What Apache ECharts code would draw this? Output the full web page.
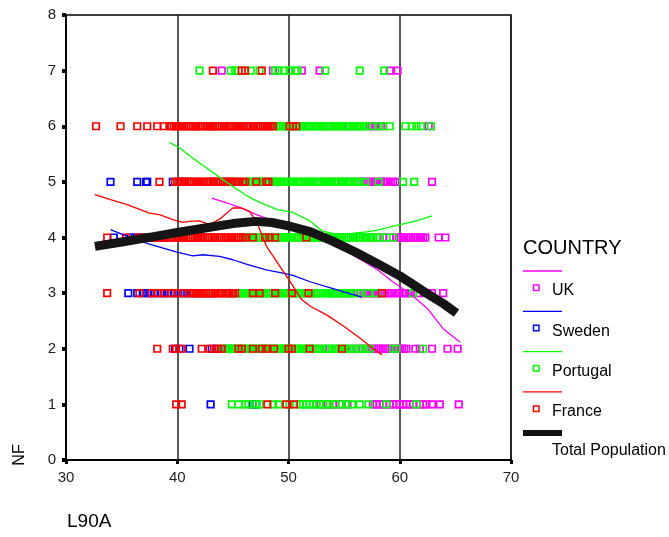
<!DOCTYPE html>
<html>
<head>
<meta charset="utf-8">
<script src="https://cdn.jsdelivr.net/npm/echarts@6.0.0/dist/echarts.min.js"></script>
<style>
  html, body { margin: 0; padding: 0; background: #fff; }
  #main { width: 669px; height: 537px; }
</style>
</head>
<body>
<div id="main"></div>
<script>
// L90A values of the cases at each NF level, per country
const ukNF7 = [44.0, 48.6, 51.2, 52.8, 59.1, 59.8];
const ptNF7 = [42.0, 44.8, 45.2, 45.5, 46.6, 47.4, 48.8, 49.1, 49.6, 50.1, 50.6, 50.8, 53.3, 56.4, 58.6];
const frNF7 = [43.2, 45.8, 46.1, 47.6];

const ukNF6 = [55.4, 57.3, 57.5, 57.8, 58.3, 62.6];
const ptNF6 = [40.0, 41.6, 43.2, 44.5, 45.6, 46.9, 47.8,
  48.7, 48.9, 49.1, 49.3, 49.5, 49.7, 49.8, 50.0, 50.2, 50.4, 50.6, 50.8, 51.0, 51.2, 51.3, 51.5, 51.7, 51.9,
  52.1, 52.3, 52.5, 52.7, 52.9, 53.0, 53.2, 53.4, 53.6, 53.8, 54.0, 54.2, 54.4, 54.5, 54.7, 54.9, 55.1, 55.3,
  55.5, 55.7, 55.9, 56.0, 56.2, 56.4, 56.6, 56.8, 57.0, 57.6, 58.1, 58.5, 59.1, 60.5, 61.1, 61.5, 61.9, 62.8];
const frNF6 = [32.7, 34.9, 36.4, 37.3, 38.2, 38.8,
  39.3, 39.5, 39.7, 39.9, 40.1, 40.3, 40.4, 40.6, 40.8, 41.0, 41.2, 41.4, 41.6, 41.7, 41.9, 42.1, 42.3, 42.5,
  42.7, 42.9, 43.0, 43.2, 43.4, 43.6, 43.8, 44.0, 44.2, 44.3, 44.5, 44.7, 44.9, 45.1, 45.3, 45.5, 45.6, 45.8,
  46.0, 46.2, 46.4, 46.6, 46.8, 46.9, 47.1, 47.3, 47.5, 47.7, 47.9, 48.1, 48.2, 48.4, 48.6, 50.1, 50.4, 50.7];

const ukNF5 = [53.9, 54.8, 55.5, 56.4, 56.6, 56.8, 57.0, 57.2, 57.4, 57.6, 57.8, 58.0, 58.3, 58.5, 58.7, 58.9,
  59.2, 59.4, 59.6, 62.9];
const swNF5 = [34.0, 36.4, 37.2, 37.3, 39.6, 40.4, 40.7, 43.3];
const ptNF5 = [40.2, 41.5, 43.0, 44.2, 44.8, 45.7,
  46.2, 46.4, 46.6, 46.8, 47.0, 47.2, 47.4, 47.5, 47.7, 47.9, 48.1, 48.3, 48.5, 48.7, 48.9, 49.0, 49.2, 49.4,
  49.6, 49.8, 50.0, 50.2, 50.4, 50.5, 50.7, 50.9, 51.1, 51.3, 51.5, 51.7, 51.9, 52.0, 52.2, 52.4, 52.6, 52.8,
  53.0, 53.2, 53.4, 53.5, 53.7, 53.9, 54.1, 54.3, 54.5, 54.7, 54.9, 55.0, 55.2, 55.4, 55.6, 55.8, 56.0, 56.2,
  56.4, 56.9, 58.1, 60.3, 61.3];
const frNF5 = [38.4, 39.8, 40.0, 40.2, 40.4, 40.6, 40.7, 40.9, 41.1, 41.3, 41.5, 41.7, 41.9, 42.0, 42.2, 42.4,
  42.6, 42.8, 43.0, 43.2, 43.3, 43.5, 43.7, 43.9, 44.1, 44.3, 44.5, 44.6, 44.8, 45.0, 45.2, 45.4, 45.6, 45.9,
  46.1, 47.1, 48.0, 48.2];

const ukNF4 = [58.0, 58.5, 59.1, 59.7, 59.9, 60.1, 60.3, 60.4, 60.6, 60.8, 61.0, 61.2, 61.4, 61.6, 61.8, 61.9,
  62.1, 62.3, 63.5, 64.1];
const swNF4 = [34.3, 35.8, 36.2, 36.6, 37.0, 37.3, 38.0, 38.9, 40.6];
const ptNF4 = [40.8, 42.1, 43.3, 44.6, 45.4,
  46.2, 46.4, 46.6, 46.8, 46.9, 47.1, 47.3, 47.5, 47.7, 47.9, 48.1, 48.3, 48.4, 48.6, 48.8, 49.0, 49.2, 49.4,
  49.6, 49.8, 49.9, 50.1, 50.3, 50.5, 50.7, 50.9, 51.1, 51.3, 51.4, 51.6, 51.8, 52.0, 52.2, 52.4, 52.6, 52.8,
  52.9, 53.1, 53.3, 53.5, 53.7, 53.9, 54.1, 54.3, 54.4, 54.6, 54.8, 55.0, 55.2, 55.4, 55.6, 55.8, 55.9, 56.1,
  56.3, 56.5, 56.7, 56.9, 57.1, 57.3, 57.4, 57.6, 57.9, 58.2, 58.8, 59.4];
const frNF4 = [33.7, 35.4, 36.5, 37.0,
  37.6, 37.8, 38.0, 38.2, 38.4, 38.6, 38.8, 38.9, 39.1, 39.3, 39.5, 39.7, 39.9, 40.1, 40.3, 40.4, 40.6, 40.8,
  41.0, 41.2, 41.4, 41.6, 41.8, 41.9, 42.1, 42.3, 42.5, 42.7, 42.9, 43.1, 43.3, 43.4, 43.6, 43.8, 44.0, 44.2,
  44.4, 44.6, 44.8, 44.9, 45.1, 45.3, 45.5, 45.7, 45.9, 46.1, 46.8, 47.9, 48.3, 48.8, 51.6];

const ukNF3 = [54.2, 55.6, 56.5, 56.8, 57.0, 57.3, 57.5, 57.7, 58.0, 58.2, 58.6, 58.9, 59.1, 59.3, 59.6, 59.8,
  60.0, 60.3, 60.5, 60.8, 61.0, 61.6, 62.2, 62.9, 63.9];
const swNF3 = [35.6, 36.4, 36.9, 37.3, 37.6, 38.0, 38.5, 38.8, 39.2, 39.7, 40.1, 40.6, 40.9, 41.4, 41.9, 42.5, 43.1];
const ptNF3 = [42.5, 43.8, 44.6,
  45.0, 45.2, 45.4, 45.6, 45.8, 46.0, 46.1, 46.3, 46.5, 46.7, 46.9, 47.1, 47.3, 47.5, 47.6, 47.8, 48.0, 48.2,
  48.4, 48.6, 48.8, 49.0, 49.1, 49.3, 49.5, 49.7, 49.9, 50.1, 50.3, 50.5, 50.6, 50.8, 51.0, 51.2, 51.4, 51.6,
  51.8, 52.0, 52.1, 52.3, 52.5, 52.7, 52.9, 53.1, 53.3, 53.5, 53.6, 53.8, 54.0, 54.2, 54.4, 54.6, 54.8, 55.0,
  55.1, 55.3, 55.5, 55.8, 56.1, 56.4, 57.2, 57.9, 58.4, 61.2];
const frNF3 = [33.7, 36.6, 37.7, 38.2, 38.9, 39.5, 40.0, 40.5,
  41.1, 41.3, 41.5, 41.7, 41.9, 42.0, 42.2, 42.4, 42.6, 42.8, 43.0, 43.2, 43.4, 43.5, 43.7, 43.9, 44.1, 44.3,
  44.5, 44.7, 44.9, 45.0, 45.2, 46.8, 47.4, 48.8, 50.3, 51.8, 58.4];

const ukNF2 = [52.8, 53.7, 55.7, 56.1, 56.5, 56.9, 57.3, 57.5, 57.7, 57.9, 58.1, 58.3, 58.5, 58.7, 58.9, 59.1,
  59.3, 59.5, 59.8, 60.0, 60.2, 60.4, 60.6, 61.4, 61.8, 62.9, 64.3, 65.2];
const swNF2 = [39.8, 40.2, 41.1, 43.1, 43.6, 44.5, 44.9];
const ptNF2 = [44.1, 44.3, 44.5, 44.7, 44.9, 45.1, 45.2, 45.4, 45.6, 45.8, 46.0, 46.2, 46.4, 46.6, 46.7, 46.9,
  47.1, 47.3, 47.5, 47.7, 47.9, 48.1, 48.2, 48.4, 48.6, 48.8, 49.0, 49.2, 49.4, 49.6, 49.7, 49.9, 50.1, 50.3,
  50.5, 50.7, 50.9, 51.1, 51.2, 51.4, 51.6, 51.8, 52.0, 52.2, 52.4, 52.6, 53.0, 53.3, 53.5, 53.9, 54.1, 54.3,
  54.5, 54.7, 55.0, 55.2, 55.5, 55.9, 56.3, 56.6, 57.0, 57.3, 59.4, 59.7, 62.1];
const frNF2 = [38.2, 39.6, 39.9, 40.4, 42.2, 42.9, 43.3, 43.7, 44.0, 45.5, 45.8, 46.8, 47.6, 48.0, 48.7, 50.0,
  50.3, 51.9, 54.8];

const ukNF1 = [52.9, 53.5, 54.0, 54.6, 55.3, 57.6, 57.9, 58.2, 58.5, 58.8, 59.1, 59.4, 59.7, 60.0, 60.3, 60.6,
  60.9, 61.2, 61.8, 62.1, 62.4, 62.9, 63.6, 65.3];
const swNF1 = [43.0, 46.8, 47.1];
const ptNF1 = [44.9, 45.5, 46.1, 46.4, 47.1, 47.4, 48.6, 49.1, 50.1, 51.0, 51.3, 51.6, 51.9, 52.2, 52.5, 52.8,
  53.1, 53.4, 53.7, 54.2, 54.8, 55.2, 55.7, 56.4, 57.2, 58.8, 61.5];
const frNF1 = [39.9, 40.4, 48.1, 49.8, 50.5];

// fit lines [L90A, NF]
const ukFit = [[43.1, 4.71], [44.5, 4.62], [45.6, 4.54], [47.0, 4.42], [48.5, 4.31], [50.0, 4.2], [52.0, 4.05],
  [54.0, 3.87], [56.0, 3.66], [58.0, 3.42], [59.4, 3.2], [61.0, 2.98], [62.5, 2.72], [63.9, 2.36], [65.4, 2.12]];
const swFit = [[34.0, 4.14], [35.5, 4.02], [37.5, 3.88], [39.9, 3.74], [41.4, 3.67], [42.3, 3.69], [43.8, 3.66],
  [45.0, 3.6], [46.2, 3.52], [48.0, 3.42], [49.5, 3.36], [50.4, 3.32], [52.0, 3.2], [54.0, 3.08], [55.5, 2.99],
  [56.6, 2.93]];
const ptFit = [[39.3, 5.71], [40.3, 5.6], [41.1, 5.47], [42.0, 5.34], [43.0, 5.2], [44.1, 5.04], [45.5, 4.85],
  [46.5, 4.72], [47.4, 4.63], [49.0, 4.5], [50.4, 4.45], [51.9, 4.3], [53.0, 4.12], [54.0, 4.07], [55.5, 4.07],
  [57.0, 4.1], [57.9, 4.13], [59.0, 4.18], [60.0, 4.23], [61.5, 4.3], [62.9, 4.39]];
const frFit = [[32.6, 4.77], [34.0, 4.68], [35.5, 4.59], [37.5, 4.44], [38.4, 4.41], [39.6, 4.32], [40.5, 4.27],
  [41.1, 4.29], [42.0, 4.3], [42.9, 4.23], [43.8, 4.33], [45.0, 4.53], [45.8, 4.53], [46.5, 4.47], [47.2, 4.25],
  [48.0, 3.85], [49.0, 3.55], [50.0, 3.25], [51.2, 2.88], [52.0, 2.76], [53.5, 2.6], [55.0, 2.4], [56.5, 2.18],
  [57.5, 2.02], [58.4, 1.89]];
const totalFit = [[32.6, 3.84], [35.0, 3.92], [38.0, 4.02], [40.0, 4.09], [42.5, 4.17], [45.0, 4.25], [47.0, 4.29],
  [48.5, 4.27], [50.0, 4.21], [52.0, 4.1], [54.0, 3.93], [56.0, 3.74], [58.0, 3.53], [60.0, 3.31], [62.0, 3.05],
  [64.0, 2.8], [65.1, 2.64]];

const countries = ['UK', 'Sweden', 'Portugal', 'France'];
const colors = ['#ff00ff', '#0000ff', '#00ff00', '#ff0000'];
const xTicks = [30, 40, 50, 60, 70];
const yTicks = [0, 1, 2, 3, 4, 5, 6, 7, 8];

const FONT = 'Liberation Sans, Arial, sans-serif';

function pts(levels) {
  let out = [];
  levels.forEach((xs, i) => {
    xs.forEach(x => out.push([x, i + 1]));
  });
  return out;
}

const scatterData = [
  pts([ukNF1, ukNF2, ukNF3, ukNF4, ukNF5, ukNF6, ukNF7]),
  pts([swNF1, swNF2, swNF3, swNF4, swNF5, [], []]),
  pts([ptNF1, ptNF2, ptNF3, ptNF4, ptNF5, ptNF6, ptNF7]),
  pts([frNF1, frNF2, frNF3, frNF4, frNF5, frNF6, frNF7])
];
const fits = [ukFit, swFit, ptFit, frFit];

let series = [];
countries.forEach((c, i) => {
  series.push({
    name: c, type: 'scatter', data: scatterData[i], symbol: 'rect', symbolSize: 6.5, z: 2 + i,
    itemStyle: { color: 'rgba(0,0,0,0)', borderColor: colors[i], borderWidth: 1.7, opacity: 1 }
  });
});
countries.forEach((c, i) => {
  series.push({
    name: c + ' fit', type: 'line', data: fits[i], showSymbol: false, z: 10 + i,
    lineStyle: { color: colors[i], width: 1.3 }
  });
});
series.push({
  name: 'Total Population', type: 'line', data: totalFit, showSymbol: false, z: 20,
  lineStyle: { color: '#151515', width: 9 }
});

// legend drawn by hand (line above, marker + label below)
let gfx = [{
  type: 'text', left: 523, top: 238,
  style: { text: 'COUNTRY', font: '20px ' + FONT, fill: '#000' }
}];
countries.forEach((c, i) => {
  let y = 271 + 40.3 * i;
  gfx.push({ type: 'line', shape: { x1: 523, y1: y, x2: 562, y2: y }, style: { stroke: colors[i], lineWidth: 1.3 } });
  gfx.push({ type: 'rect', shape: { x: 533.5, y: y + 14, width: 5.5, height: 5.5 },
    style: { fill: 'none', stroke: colors[i], lineWidth: 1.5 } });
  gfx.push({ type: 'text', x: 552, y: y + 20, style: { text: c, font: '16px ' + FONT, fill: '#000', textVerticalAlign: 'middle' } });
});
gfx.push({ type: 'rect', shape: { x: 523, y: 430, width: 39, height: 6 }, style: { fill: '#111' } });
gfx.push({ type: 'text', x: 552, y: 451, style: { text: 'Total Population', font: '16px ' + FONT, fill: '#000', textVerticalAlign: 'middle' } });
gfx.push({ type: 'text', x: 20, y: 455, rotation: Math.PI / 2,
  style: { text: 'NF', font: '16px ' + FONT, fill: '#000', textAlign: 'center', textVerticalAlign: 'middle' } });
gfx.push({ type: 'text', x: 67, y: 522,
  style: { text: 'L90A', font: '19px ' + FONT, fill: '#000', textVerticalAlign: 'middle' } });

let options = {
  animation: false,
  backgroundColor: '#fff',
  grid: { left: 66, top: 15, right: 158, bottom: 77, show: true, borderColor: '#000', borderWidth: 1.5 },
  xAxis: {
    type: 'value', min: 30, max: 70, interval: 10,
    axisLine: { lineStyle: { color: '#000', width: 2 } },
    axisTick: { show: true, length: 4, lineStyle: { color: '#000', width: 3 } },
    axisLabel: { margin: 10, color: '#222', fontSize: 15, fontFamily: FONT,
      formatter: v => xTicks.includes(v) ? String(v) : '' },
    splitLine: { show: true, lineStyle: { color: '#222', width: 1.5 } }
  },
  yAxis: {
    type: 'value', min: 0, max: 8, interval: 1,
    axisLine: { show: true, lineStyle: { color: '#000', width: 2 } },
    axisTick: { show: true, length: 4, lineStyle: { color: '#000', width: 4 } },
    axisLabel: { margin: 10, color: '#222', fontSize: 15, fontFamily: FONT,
      formatter: v => yTicks.includes(v) ? String(v) : '' },
    splitLine: { show: false }
  },
  graphic: gfx,
  series: series
};

let myChart = echarts.init(document.getElementById('main'));
myChart.setOption(options);
</script>
</body>
</html>
